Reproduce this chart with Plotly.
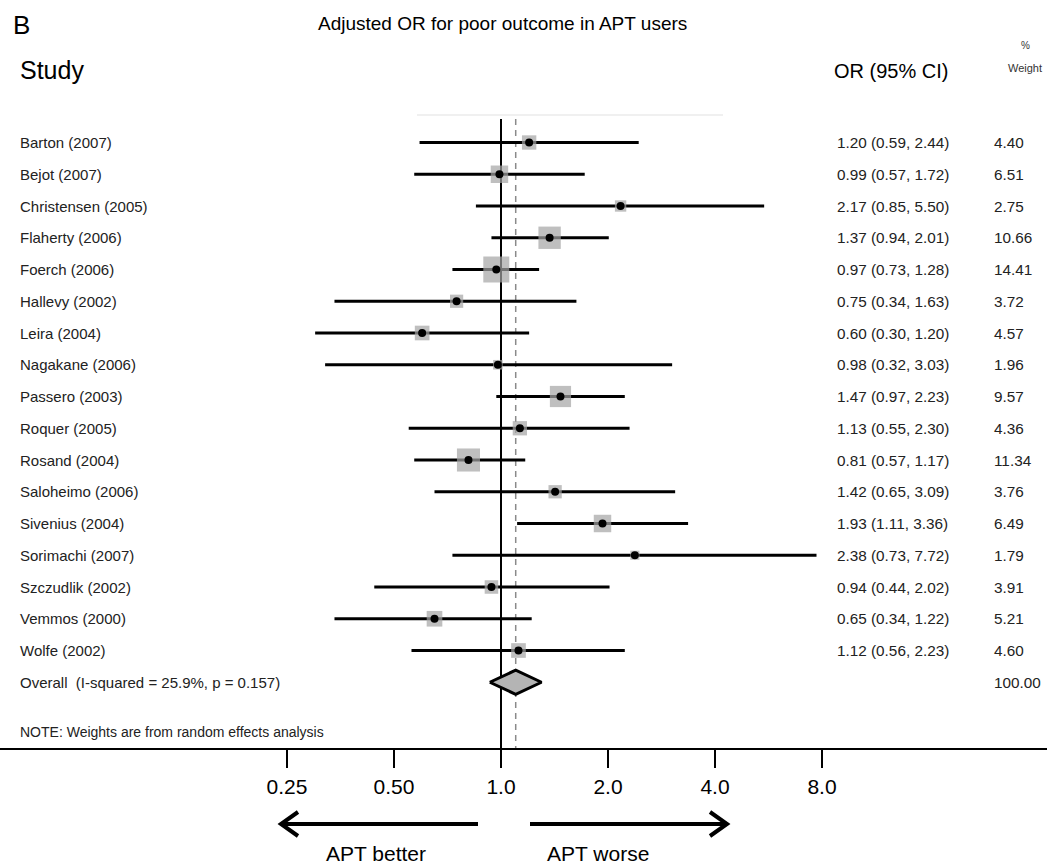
import plotly.graph_objects as go

studies = ["Barton (2007)", "Bejot (2007)", "Christensen (2005)", "Flaherty (2006)",
           "Foerch (2006)", "Hallevy (2002)", "Leira (2004)", "Nagakane (2006)",
           "Passero (2003)", "Roquer (2005)", "Rosand (2004)", "Saloheimo (2006)",
           "Sivenius (2004)", "Sorimachi (2007)", "Szczudlik (2002)", "Vemmos (2000)",
           "Wolfe (2002)"]
odds = [1.20, 0.99, 2.17, 1.37, 0.97, 0.75, 0.60, 0.98, 1.47, 1.13, 0.81, 1.42, 1.93,
        2.38, 0.94, 0.65, 1.12]
ci_low = [0.59, 0.57, 0.85, 0.94, 0.73, 0.34, 0.30, 0.32, 0.97, 0.55, 0.57, 0.65, 1.11,
          0.73, 0.44, 0.34, 0.56]
ci_high = [2.44, 1.72, 5.50, 2.01, 1.28, 1.63, 1.20, 3.03, 2.23, 2.30, 1.17, 3.09, 3.36,
           7.72, 2.02, 1.22, 2.23]
weights = [4.40, 6.51, 2.75, 10.66, 14.41, 3.72, 4.57, 1.96, 9.57, 4.36, 11.34, 3.76,
           6.49, 1.79, 3.91, 5.21, 4.60]
overall_label = "Overall  (I-squared = 25.9%, p = 0.157)"
overall_or = 1.10
overall_low = 0.93
overall_high = 1.30
overall_weight = "100.00"
tick_vals = [0.25, 0.5, 1.0, 2.0, 4.0, 8.0]
tick_text = ["0.25", "0.50", "1.0", "2.0", "4.0", "8.0"]

W, H = 1047, 865
SANS = "Liberation Sans, Arial, sans-serif"

# geometry in page pixels
row0_px, row_step = 142.5, 31.75
axis_px = 748
x_one_px, px_per_dec = 501.0, 107.0 / 0.30103


def prow(p):
    return 1 + (p - row0_px) / row_step


def px_x(p):
    return p / W


def px_y(p):
    return 1 - p / H


n = len(studies)
rows = list(range(1, n + 1))
overall_row = n + 1
note_row = prow(732)

fig = go.Figure()

# reference lines
top_row = prow(119)
fig.add_trace(go.Scatter(x=[1, 1], y=[top_row, prow(axis_px)], mode="lines",
                         line=dict(color="black", width=2), hoverinfo="skip"))
fig.add_trace(go.Scatter(x=[overall_or, overall_or], y=[top_row, prow(axis_px)], mode="lines",
                         line=dict(color="#8a8a8a", width=1.5, dash="6px,5px"), hoverinfo="skip"))

# CI lines
xs, ys = [], []
for r, lo, hi in zip(rows, ci_low, ci_high):
    xs += [lo, hi, None]
    ys += [r, r, None]
fig.add_trace(go.Scatter(x=xs, y=ys, mode="lines", line=dict(color="black", width=3),
                         hoverinfo="skip"))

# weight boxes
fig.add_trace(go.Scatter(x=odds, y=rows, mode="markers",
                         marker=dict(symbol="square", color="#a4a4a4",
                                     size=[6.85 * w ** 0.5 for w in weights], line=dict(width=0)),
                         hoverinfo="skip"))
fig.add_trace(go.Scatter(x=odds, y=rows, mode="markers",
                         marker=dict(symbol="circle", color="black", size=8), hoverinfo="skip"))

# overall diamond
dh = 0.38
fig.add_trace(go.Scatter(x=[overall_low, overall_or, overall_high, overall_or, overall_low],
                         y=[overall_row, overall_row - dh, overall_row, overall_row + dh, overall_row],
                         mode="lines", fill="toself", fillcolor="#b4b4b4",
                         line=dict(color="black", width=3), hoverinfo="skip"))

small = dict(family=SANS, size=15, color="#222")
num = dict(family=SANS, size=15.3, color="#222")
ann = []
for r, s, o, lo, hi, w in zip(rows, studies, odds, ci_low, ci_high, weights):
    ann.append(dict(x=px_x(18), y=r, xref="paper", yref="y", text=s, showarrow=False,
                    xanchor="left", yanchor="middle", font=small))
    ann.append(dict(x=px_x(835), y=r, xref="paper", yref="y",
                    text=f"{o:.2f} ({lo:.2f}, {hi:.2f})", showarrow=False,
                    xanchor="left", yanchor="middle", font=num))
    ann.append(dict(x=px_x(992), y=r, xref="paper", yref="y", text=f"{w:.2f}",
                    showarrow=False, xanchor="left", yanchor="middle", font=num))
ann.append(dict(x=px_x(18), y=overall_row, xref="paper", yref="y", text=overall_label,
                showarrow=False, xanchor="left", yanchor="middle", font=small))
ann.append(dict(x=px_x(992), y=overall_row, xref="paper", yref="y", text=overall_weight,
                showarrow=False, xanchor="left", yanchor="middle", font=num))
ann.append(dict(x=px_x(18), y=note_row, xref="paper", yref="y",
                text="NOTE: Weights are from random effects analysis", showarrow=False,
                xanchor="left", yanchor="middle", font=dict(family=SANS, size=14, color="#222")))

# headers
ann.append(dict(x=px_x(11), y=px_y(25), xref="paper", yref="paper", text="B", showarrow=False,
                xanchor="left", yanchor="middle", font=dict(family=SANS, size=26, color="black")))
ann.append(dict(x=px_x(502), y=px_y(23), xref="paper", yref="paper",
                text="Adjusted OR for poor outcome in APT users", showarrow=False,
                xanchor="center", yanchor="middle",
                font=dict(family=SANS, size=19, color="black")))
ann.append(dict(x=px_x(18), y=px_y(70), xref="paper", yref="paper", text="Study",
                showarrow=False, xanchor="left", yanchor="middle",
                font=dict(family=SANS, size=25, color="black")))
ann.append(dict(x=px_x(950), y=px_y(71), xref="paper", yref="paper", text="OR (95% CI)",
                showarrow=False, xanchor="right", yanchor="middle",
                font=dict(family=SANS, size=20, color="black")))
ann.append(dict(x=px_x(1019), y=px_y(46), xref="paper", yref="paper", text="%",
                showarrow=False, xanchor="left", yanchor="middle",
                font=dict(family=SANS, size=10, color="#333")))
ann.append(dict(x=px_x(1044), y=px_y(68), xref="paper", yref="paper", text="Weight",
                showarrow=False, xanchor="right", yanchor="middle",
                font=dict(family=SANS, size=11, color="#333")))

# bottom direction labels
big = dict(family=SANS, size=21, color="black")
ann.append(dict(x=px_x(376), y=px_y(853), xref="paper", yref="paper", text="APT better",
                showarrow=False, xanchor="center", yanchor="middle", font=big))
ann.append(dict(x=px_x(598), y=px_y(853), xref="paper", yref="paper", text="APT worse",
                showarrow=False, xanchor="center", yanchor="middle", font=big))

shapes = []
ay = px_y(824)
# arrows
shapes.append(dict(type="line", xref="paper", yref="paper", x0=px_x(478), x1=px_x(283),
                   y0=ay, y1=ay, line=dict(color="black", width=4)))
shapes.append(dict(type="path", xref="paper", yref="paper",
                   path=f"M {px_x(298)} {px_y(812)} L {px_x(281)} {ay} L {px_x(298)} {px_y(836)}",
                   line=dict(color="black", width=4)))
shapes.append(dict(type="line", xref="paper", yref="paper", x0=px_x(530), x1=px_x(725),
                   y0=ay, y1=ay, line=dict(color="black", width=4)))
shapes.append(dict(type="path", xref="paper", yref="paper",
                   path=f"M {px_x(710)} {px_y(812)} L {px_x(727)} {ay} L {px_x(710)} {px_y(836)}",
                   line=dict(color="black", width=4)))
# faint line at top
shapes.append(dict(type="line", xref="paper", yref="paper", x0=px_x(417), x1=px_x(723),
                   y0=px_y(115), y1=px_y(115), line=dict(color="#f0f0f0", width=2)))

lo_dec = (0 - x_one_px) / px_per_dec
hi_dec = (W - x_one_px) / px_per_dec

fig.update_layout(
    width=W, height=H, margin=dict(l=0, r=0, t=0, b=0),
    paper_bgcolor="white", plot_bgcolor="white", showlegend=False,
    annotations=ann, shapes=shapes,
    xaxis=dict(type="log", range=[lo_dec, hi_dec], domain=[0, 1],
               tickvals=tick_vals, ticktext=tick_text, ticks="outside", ticklen=18,
               tickwidth=2, tickcolor="black", showline=True, linecolor="black", linewidth=2,
               showgrid=False, zeroline=False, ticklabelstandoff=1,
               tickfont=dict(family=SANS, size=21, color="black")),
    yaxis=dict(range=[prow(axis_px), prow(0)], domain=[1 - axis_px / H, 1],
               visible=False, showgrid=False, zeroline=False),
)

fig.write_html("out.html", config={"displayModeBar": False},
               post_script="document.body.style.margin='0';"
                           "document.body.style.overflow='hidden';"
                           "document.documentElement.style.overflow='hidden';")
